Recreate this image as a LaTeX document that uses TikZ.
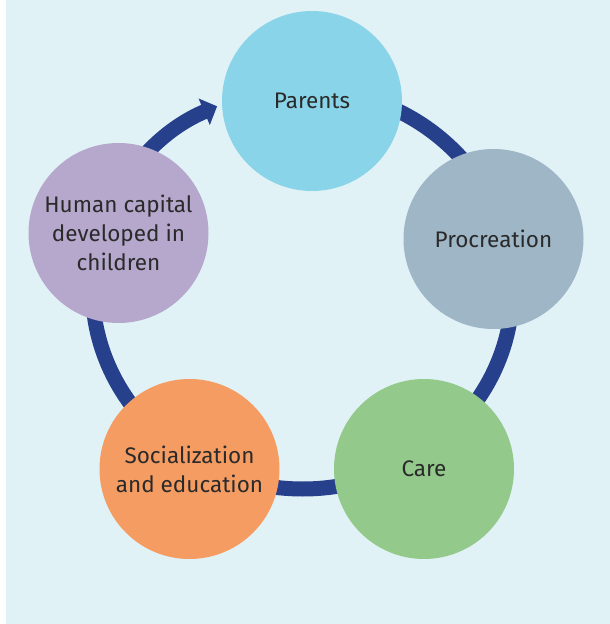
\documentclass[tikz,border=0pt]{standalone}
\usepackage{fontspec}
\setmainfont{Fira Sans}
\usetikzlibrary{arrows.meta}
\definecolor{bgc}{HTML}{E1F2F7}
\definecolor{ringc}{HTML}{27408B}
\definecolor{parc}{HTML}{89D4E8}
\definecolor{proc}{HTML}{9EB6C6}
\definecolor{carec}{HTML}{93C98A}
\definecolor{socc}{HTML}{F59C62}
\definecolor{humc}{HTML}{B5A8CC}
\definecolor{txtc}{HTML}{2A2A2A}
\tikzset{
  stage/.style={circle, minimum size=180pt, inner sep=0pt, align=center,
    text=txtc, font=\fontsize{22.5}{29}\selectfont},
  ring/.style={draw=ringc, line width=15pt,
    -{Triangle[width=28pt,length=14pt]}}
}
\begin{document}
\begin{tikzpicture}[x=1pt,y=1pt]
\useasboundingbox (0,0) rectangle (610,624);
\fill[white] (0,0) rectangle (610,624);
\fill[bgc] (6,0) rectangle (610,624);
\coordinate (ctr) at (302.5,335);
\draw[ring] (ctr) ++(87:210pt and 200pt)
  arc[start angle=87, end angle=-246, x radius=210pt, y radius=200pt];
\node[stage, fill=parc] (parents) at (312,523) {Parents};
\node[stage, fill=proc] (procreation) at (493.5,385) {Procreation};
\node[stage, fill=carec] (care) at (424,155) {Care};
\node[stage, fill=socc] (social) at (189.5,155) {Socialization\\and education};
\node[stage, fill=humc] (human) at (118.5,391) {Human capital\\developed in\\children};
\end{tikzpicture}
\end{document}
